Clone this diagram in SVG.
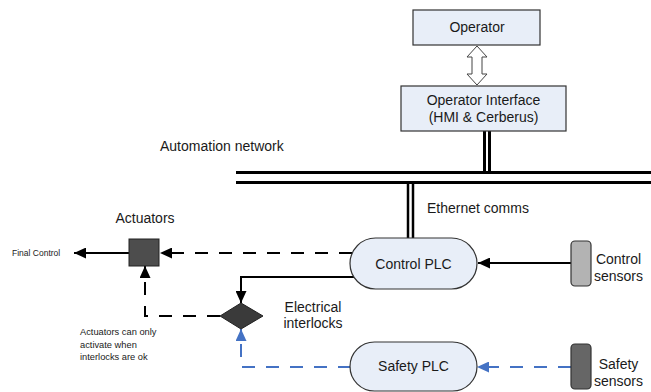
<svg xmlns="http://www.w3.org/2000/svg" width="651" height="392" viewBox="0 0 651 392">
<style>
text{font-family:"Liberation Sans",Arial,sans-serif;fill:#1a1a1a;font-size:14px}
.sm{font-size:9.3px}
.box{fill:#e8eef8;stroke:#333;stroke-width:1.2}
.c{fill:none;stroke:#000;stroke-width:2}
.d{stroke-dasharray:13 11}
.b{stroke:#4472c4}
.bus{stroke:#000;stroke-width:3}
</style>
<defs>
<marker id="ak" viewBox="0 0 12 11" refX="12" refY="5.5" markerWidth="12" markerHeight="11" markerUnits="userSpaceOnUse" orient="auto"><path d="M0,0 L12,5.5 L0,11 z" fill="#000"/></marker>
<marker id="ab" viewBox="0 0 12 11" refX="12" refY="5.5" markerWidth="12" markerHeight="11" markerUnits="userSpaceOnUse" orient="auto"><path d="M0,0 L12,5.5 L0,11 z" fill="#4472c4"/></marker>
</defs>
<g id="connectors">
<polygon points="477,46 487,57 482,57 482,74 487,74 477,85 467,74 472,74 472,57 467,57" fill="#fff" stroke="#444" stroke-width="1"/>
<line class="bus" x1="484.5" y1="131" x2="484.5" y2="172"/>
<line class="bus" x1="489.5" y1="131" x2="489.5" y2="172"/>
<line class="bus" x1="236" y1="172.5" x2="651" y2="172.5"/>
<line class="bus" x1="236" y1="182.5" x2="651" y2="182.5"/>
<line x1="408" y1="184" x2="408" y2="238" stroke="#000" stroke-width="2.5"/>
<line x1="413" y1="184" x2="413" y2="238" stroke="#000" stroke-width="2.5"/>
<path class="c" d="M571 263 H478" marker-end="url(#ak)"/>
<path class="c d" d="M352 253 H160" marker-end="url(#ak)"/>
<path class="c" d="M129 253 H74" marker-end="url(#ak)"/>
<path class="c" d="M354 277 H241 V303" marker-end="url(#ak)"/>
<path class="c d" d="M220 316 H145 V266" marker-end="url(#ak)"/>
<path class="c d b" d="M571 367 H477" marker-end="url(#ab)"/>
<path class="c d b" d="M351 367 H241 V329" marker-end="url(#ab)"/>
</g>
<g id="operator">
<rect class="box" x="413" y="10" width="127" height="35"/>
<text x="477" y="32" text-anchor="middle">Operator</text>
</g>
<g id="operator-interface">
<rect class="box" x="401" y="86" width="165" height="45"/>
<text x="483.5" y="105" text-anchor="middle">Operator Interface</text>
<text x="483.5" y="122" text-anchor="middle">(HMI &amp; Cerberus)</text>
</g>
<g id="automation-network">
<text x="160" y="151">Automation network</text>
</g>
<g id="ethernet-comms">
<text x="427" y="213">Ethernet comms</text>
</g>
<g id="control-plc">
<rect class="box" x="350" y="238" width="127" height="51" rx="25.5"/>
<text x="413.5" y="269" text-anchor="middle">Control PLC</text>
</g>
<g id="safety-plc">
<rect class="box" x="350" y="342" width="127" height="49" rx="24.5"/>
<text x="413.5" y="371" text-anchor="middle">Safety PLC</text>
</g>
<g id="control-sensors">
<rect x="571" y="241" width="20" height="45" rx="4" fill="#b3b3b3" stroke="#333" stroke-width="1.2"/>
<text x="618.5" y="264" text-anchor="middle">Control</text>
<text x="618.5" y="281" text-anchor="middle">sensors</text>
</g>
<g id="safety-sensors">
<rect x="571" y="344" width="20" height="45" rx="4" fill="#666" stroke="#333" stroke-width="1.2"/>
<text x="618.5" y="369" text-anchor="middle">Safety</text>
<text x="618.5" y="386" text-anchor="middle">sensors</text>
</g>
<g id="actuators">
<rect x="129" y="239" width="30" height="27" fill="#4d4d4d" stroke="#222" stroke-width="1"/>
<text x="145" y="223" text-anchor="middle">Actuators</text>
</g>
<g id="final-control">
<text class="sm" x="12" y="256" style="font-size:8.5px">Final Control</text>
</g>
<g id="electrical-interlocks">
<polygon points="241,303 263,316 241,329 220,316" fill="#3a3a3a" stroke="#222" stroke-width="1"/>
<text x="313" y="312" text-anchor="middle">Electrical</text>
<text x="313" y="328" text-anchor="middle">interlocks</text>
</g>
<g id="note">
<text class="sm" x="80" y="335">Actuators can only</text>
<text class="sm" x="80" y="347.5">activate when</text>
<text class="sm" x="80" y="360">interlocks are ok</text>
</g>
</svg>
